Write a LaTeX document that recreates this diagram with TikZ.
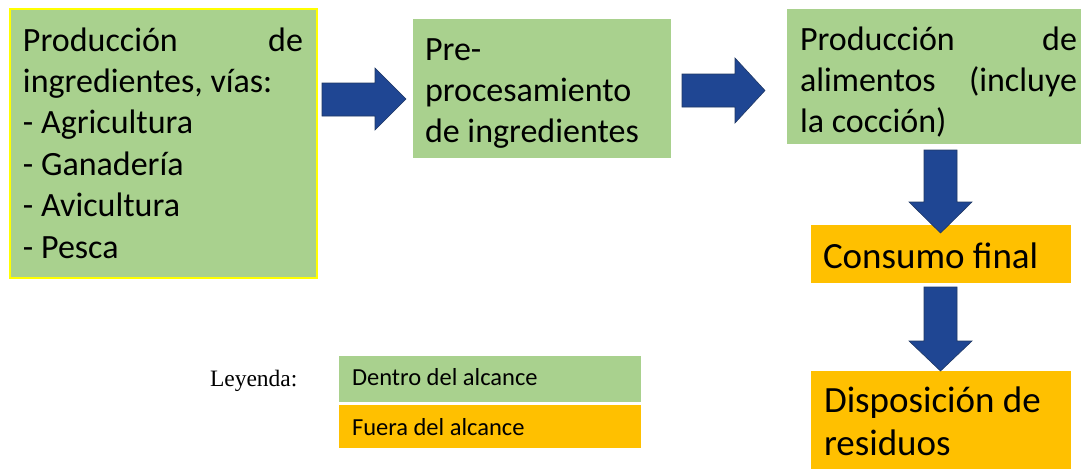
\documentclass[tikz,border=0pt]{standalone}
\usepackage{fontspec}
\setmainfont{Carlito}
\newfontfamily\tnr{Liberation Serif}
\frenchspacing
\definecolor{ingreen}{HTML}{A9D18E}
\definecolor{outorange}{HTML}{FFC000}
\definecolor{arrowblue}{RGB}{31,70,147}
\definecolor{arrowedge}{RGB}{32,56,100}
\definecolor{boxyellow}{HTML}{FFFF00}
\tikzset{
  boxshape/.style={anchor=north west, inner sep=0pt, outer sep=0pt, draw=none},
  txt/.style={anchor=north west, inner sep=0pt, outer sep=0pt, align=flush left},
  basetxt/.style={anchor=base west, inner sep=0pt, outer sep=0pt},
  bigfont/.style={font=\fontsize{34}{41.4}\selectfont},
  hugefont/.style={font=\fontsize{37}{43}\selectfont},
  blockarrow/.style={fill=arrowblue, draw=arrowedge, line width=0.6pt, line join=miter}
}
\begin{document}
\begin{tikzpicture}[x=1pt,y=-1pt]
\useasboundingbox (0,0) rectangle (1081,469);
% boxes
\node[boxshape, fill=ingreen, draw=boxyellow, line width=1.5pt, minimum width=307pt, minimum height=269pt] (b1) at (10,9) {};
\node[boxshape, fill=ingreen, minimum width=258pt, minimum height=139pt] (b2) at (413,19) {};
\node[boxshape, fill=ingreen, minimum width=294pt, minimum height=135pt] (b3) at (787,9) {};
\node[boxshape, fill=outorange, minimum width=260pt, minimum height=58pt] (b4) at (811,225) {};
\node[boxshape, fill=outorange, minimum width=260pt, minimum height=98pt] (b5) at (811,371) {};
\node[boxshape, fill=ingreen, minimum width=302pt, minimum height=46pt] (l1) at (339,356) {};
\node[boxshape, fill=outorange, minimum width=302pt, minimum height=43pt] (l2) at (339,405) {};
% texts
\node[txt, bigfont, text width=280pt] (t1) at (23,21) {\rule{0pt}{30pt}Producción\hfill de\\ingredientes, vías:\\- Agricultura\\- Ganadería\\- Avicultura\\- Pesca};
\node[txt, bigfont] (t2) at (425,30) {\rule{0pt}{30pt}Pre-\\procesamiento\\de ingredientes};
\node[txt, bigfont, text width=277pt] (t3) at (800,20) {\rule{0pt}{30pt}Producción\hfill de\\alimentos\hfill (incluye\\la cocción)};
\node[basetxt, hugefont] (t4) at (823,268) {Consumo final};
\node[txt, hugefont] (t5) at (824,380) {\rule{0pt}{32pt}Disposición de\\residuos};
\node[basetxt, font=\tnr\fontsize{23.5}{28}\selectfont] (ley) at (210,386) {Leyenda:};
\node[basetxt, font=\fontsize{24.5}{29}\selectfont] (t6) at (352,385) {Dentro del alcance};
\node[basetxt, font=\fontsize{24.5}{29}\selectfont] (t7) at (352,435) {Fuera del alcance};
% block arrows
\draw[blockarrow] (322,83) -- (375,83) -- (375,68) -- (406,99) -- (375,130) -- (375,116) -- (322,116) -- cycle;
\draw[blockarrow] (682,74) -- (735,74) -- (735,58) -- (765,90.5) -- (735,123) -- (735,107) -- (682,107) -- cycle;
\draw[blockarrow] (924,150) -- (957,150) -- (957,202) -- (972,202) -- (940.5,233) -- (909,202) -- (924,202) -- cycle;
\draw[blockarrow] (924,287) -- (957,287) -- (957,341) -- (972,341) -- (940.5,371) -- (909,341) -- (924,341) -- cycle;
\end{tikzpicture}
\end{document}
